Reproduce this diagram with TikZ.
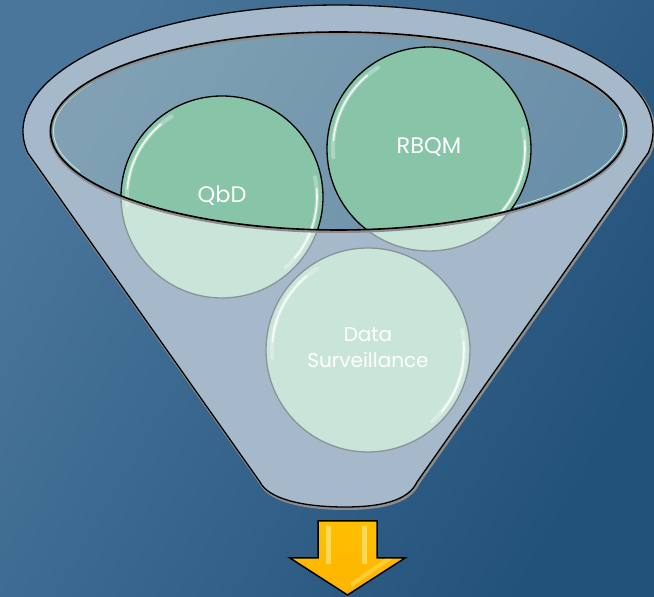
\documentclass[tikz,border=0pt]{standalone}
\usepackage{fontspec}
\setmainfont{Poppins}
\definecolor{bgA}{HTML}{4A769B}
\definecolor{bgB}{HTML}{22517A}
\definecolor{rim}{HTML}{A5B9CB}
\definecolor{innerA}{HTML}{80A1B4}
\definecolor{innerB}{HTML}{6A8FA8}
\definecolor{paleG}{HTML}{C9E4D8}
\definecolor{deepG}{HTML}{87C4A8}
\definecolor{edgeG}{HTML}{8C9296}
\definecolor{gold}{HTML}{FFC000}
\definecolor{goldL}{HTML}{FFE066}
\tikzset{
  lbl/.style={text=white, font=\fontsize{20}{26}\selectfont, align=center},
  lblbig/.style={text=white, font=\fontsize{22.5}{26}\selectfont, align=center},
  glintw/.style={white, line width=4pt, opacity=0.3, line cap=round},
  glint/.style={white, line width=1.6pt, opacity=0.85, line cap=round},
}
\def\funnelpath{(648.2,444.1) arc[start angle=-10,end angle=190,x radius=315,y radius=126] -- (260,115) .. controls (268,99) and (300,90) .. (345,90) .. controls (390,90) and (410,100) .. (417,115) -- cycle}
\def\innerell{(338.5,466) ellipse[x radius=288,y radius=99]}
\begin{document}
\begin{tikzpicture}[x=1pt,y=1pt]
\useasboundingbox (0,0) rectangle (654,597);
\shade[top color=bgA, bottom color=bgB, shading angle=60] (0,0) rectangle (654,597);
% funnel body
\draw[black!45, line width=3pt, shift={(1,-1.5)}] \funnelpath;
\fill[rim] \funnelpath;
\draw[black, line width=1.3pt] \funnelpath;
% inner opening
\shade[top color=innerA, bottom color=innerB, shading angle=60] \innerell;
\draw[deepG!55!white, line width=1pt] ({338.5+285*cos(150)},{466+96*sin(150)}) arc[start angle=150,end angle=205,x radius=285,y radius=96];
\draw[deepG!55!white, line width=1pt] ({338.5+285*cos(-75)},{466+96*sin(-75)}) arc[start angle=-75,end angle=10,x radius=285,y radius=96];
% pale circles (seen through funnel)
\foreach \cx/\cy/\r in {222/400/101, 429/448/102, 368/247/102}{
  \fill[paleG] (\cx,\cy) circle[radius=\r];
  \draw[edgeG, line width=1.3pt] (\cx,\cy) circle[radius=\r];
}
% green parts inside the opening
\begin{scope}
  \clip \innerell;
  \foreach \cx/\cy/\r in {222/400/101, 429/448/102}{
    \fill[deepG] (\cx,\cy) circle[radius=\r];
    \draw[black, line width=1.3pt] (\cx,\cy) circle[radius=\r];
  }
\end{scope}
% glossy highlights
\foreach \cx/\cy/\r in {222/400/101, 429/448/102, 368/247/102}{
  \draw[glintw] ([shift={(122:\r-6)}]\cx,\cy) arc[start angle=122,end angle=185,radius=\r-6];
  \draw[glint] ([shift={(130:\r-6)}]\cx,\cy) arc[start angle=130,end angle=175,radius=\r-6];
  \draw[glintw] ([shift={(-48:\r-6)}]\cx,\cy) arc[start angle=-48,end angle=12,radius=\r-6];
  \draw[glint] ([shift={(-40:\r-6)}]\cx,\cy) arc[start angle=-40,end angle=5,radius=\r-6];
}
% inner ellipse rim line
\draw[black!45, line width=3pt, shift={(0,-1.5)}] \innerell;
\draw[black, line width=1.6pt] \innerell;
% labels
\node[lblbig] (qbd) at (222,401) {QbD};
\node[lblbig] (rbqm) at (429,450) {RBQM};
\node[lbl] (ds) at (368,249) {Data\\Surveillance};
% arrow
\draw[black, line width=1.5pt, top color=gold, bottom color=gold!80!orange] (318,76) -- (377,76) -- (377,39) -- (405,39) -- (347.5,2) -- (290,39) -- (318,39) -- cycle;
\fill[goldL, opacity=0.8] (326,71) rectangle (331,33);
\fill[goldL, opacity=0.8] (362,71) rectangle (367,33);
\fill[goldL, opacity=0.5] (352,10) -- (392,38) -- (385,38) -- (350,14) -- cycle;
\end{tikzpicture}
\end{document}
